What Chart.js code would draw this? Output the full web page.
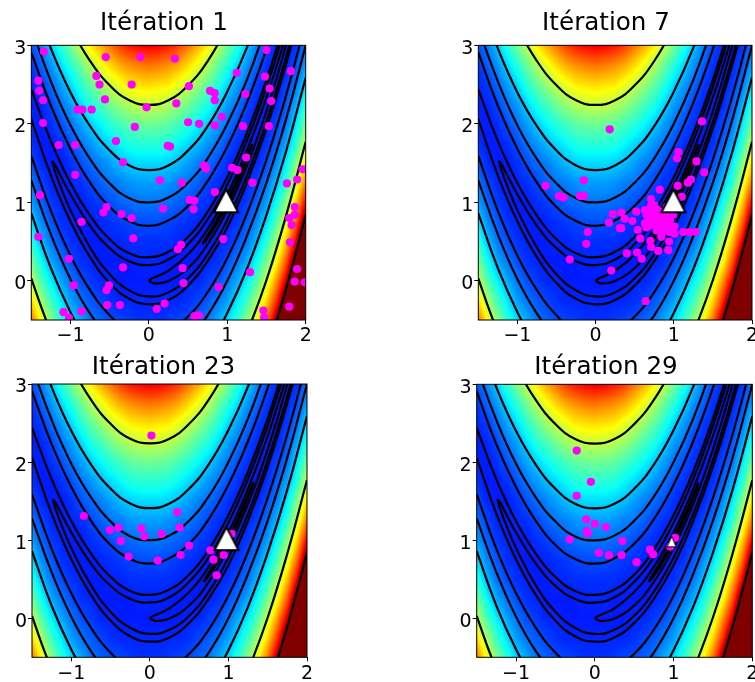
<!DOCTYPE html>
<html><head><meta charset="utf-8">
<style>html,body{margin:0;padding:0;background:#fff;overflow:hidden;width:755px;height:682px;position:relative}canvas{position:absolute}</style>
<script src="https://cdn.jsdelivr.net/npm/chart.js@4"></script>
</head><body>
<script>
const xTicks=[-1,0,1,2];
const yTicks=[0,1,2,3];
const gridX=[-1.5,-1.375,-1.25,-1.125,-1,-0.875,-0.75,-0.625,-0.5,-0.375,-0.25,-0.125,0,0.125,0.25,0.375,0.5,0.625,0.75,0.875,1,1.125,1.25,1.375,1.5,1.625,1.75,1.875,2];
const gridY=[3,2.75,2.5,2.25,2,1.75,1.5,1.25,1,0.75,0.5,0.25,0,-0.25,-0.5];
const heatRows=[
[20,25,33,41,49,58,66,73,79,85,89,91,92,91,89,85,79,73,66,58,49,41,33,25,20,16,15,17,24],
[17,22,27,34,41,48,56,62,68,73,76,78,79,78,76,73,68,62,56,48,41,34,27,22,17,15,16,20,28],
[16,18,23,28,34,41,47,53,58,62,66,67,68,67,66,62,58,53,47,41,34,28,23,18,16,15,18,24,34],
[15,16,19,24,28,34,40,44,49,53,56,58,58,58,56,53,49,44,40,34,28,24,19,16,15,16,21,29,41],
[16,15,17,20,24,28,33,37,41,44,47,48,49,48,47,44,41,37,33,28,24,20,17,15,16,19,24,35,49],
[17,15,15,17,20,24,27,31,34,37,40,41,41,41,40,37,34,31,27,24,20,17,15,15,17,22,29,41,58],
[20,16,15,15,17,20,23,25,28,31,33,34,34,34,33,31,28,25,23,20,17,15,15,16,20,26,36,50,68],
[24,19,16,15,16,17,19,22,24,25,27,28,28,28,27,25,24,22,19,17,16,15,16,19,24,31,42,58,79],
[28,22,18,16,15,15,17,18,20,22,23,24,24,24,23,22,20,18,17,15,15,16,18,22,28,38,51,69,92],
[34,26,21,17,16,15,15,16,17,18,19,20,20,20,19,18,17,16,15,15,16,17,21,26,34,45,60,80,105],
[41,31,24,20,17,16,15,15,16,16,17,17,17,17,17,16,16,15,15,16,17,20,24,31,41,54,71,92,119],
[49,38,29,24,20,17,16,15,15,15,15,16,16,16,15,15,15,15,16,17,20,24,29,38,49,63,82,106,135],
[58,45,36,29,24,20,18,16,16,15,15,15,15,15,15,15,16,16,18,20,24,29,36,45,58,75,94,121,151],
[68,54,43,35,28,24,21,19,17,16,16,16,16,16,16,16,17,19,21,24,28,35,43,54,68,86,108,136,169],
[79,63,51,41,34,29,24,22,20,19,18,17,17,17,18,19,20,22,24,29,34,41,51,63,79,99,123,152,187]
];
const level1000Low=[[1.5,-0.91],[1.625,-0.52],[1.75,-0.1],[1.875,0.36],[2,0.84]];
const level500Up=[[-1.25,3.79],[-1,3.23],[-0.75,2.8],[-0.5,2.49],[-0.25,2.3],[0,2.24],[0.25,2.3],[0.5,2.49],[0.75,2.8],[1,3.24],[1.25,3.8]];
const level500LowL=[[-1.5,0.03],[-1.375,-0.33],[-1.25,-0.66]];
const level500LowR=[[1.125,-0.97],[1.25,-0.67],[1.5,0.01],[1.75,0.83],[2,1.77]];
const level200Up=[[-1.5,3.64],[-1.25,2.96],[-1,2.4],[-0.75,1.97],[-0.5,1.66],[-0.25,1.47],[0,1.41],[0.25,1.47],[0.5,1.66],[0.75,1.97],[1,2.41],[1.25,2.97],[1.5,3.66]];
const level200LowL=[[-1.5,0.86],[-1.25,0.16],[-1,-0.4],[-0.75,-0.85]];
const level200LowR=[[0.75,-0.85],[1,-0.41],[1.25,0.15],[1.5,0.84],[1.75,1.65],[2,2.59]];
const level100Up=[[-1.5,3.22],[-1.25,2.54],[-1,1.98],[-0.75,1.55],[-0.5,1.24],[-0.25,1.05],[0,1],[0.25,1.06],[0.5,1.25],[0.75,1.56],[1,2],[1.25,2.56],[1.5,3.25]];
const level100LowL=[[-1.5,1.28],[-1.25,0.59],[-1,0.02],[-0.75,-0.42],[-0.5,-0.74]];
const level100LowR=[[0.5,-0.75],[0.75,-0.44],[1,0],[1.25,0.57],[1.5,1.25],[1.75,2.06],[2,3]];
const level50Up=[[-1.5,2.91],[-1.25,2.23],[-1,1.68],[-0.75,1.25],[-0.5,0.94],[-0.25,0.76],[0,0.7],[0.25,0.77],[0.5,0.955],[0.75,1.27],[1,1.71],[1.25,2.27],[1.5,2.955],[1.75,3.77]];
const level50Low=[[-1.5,1.59],[-1.25,0.89],[-1,0.32],[-0.75,-0.12],[-0.5,-0.44],[-0.25,-0.64],[0,-0.7],[0.25,-0.64],[0.5,-0.455],[0.75,-0.145],[1,0.29],[1.25,0.855],[1.5,1.545],[1.75,2.36],[2,3.3]];
const level10Up=[[-1.5,2.44],[-1.25,1.78],[-1,1.245],[-0.75,0.83],[-0.5,0.53],[-0.25,0.35],[0,0.3],[0.25,0.37],[0.5,0.56],[0.75,0.88],[1,1.32],[1.25,1.88],[1.5,2.56],[1.75,3.37],[2,4.3]];
const level10Low=[[-1.5,2.06],[-1.25,1.34],[-1,0.755],[-0.75,0.3],[-0.5,-0.03],[-0.25,-0.23],[0,-0.3],[0.25,-0.245],[0.5,-0.06],[0.75,0.25],[1,0.68],[1.25,1.25],[1.5,1.94],[1.75,2.76],[2,3.7]];
const level5Loop=[[-1.236,1.528],[-1.2,1.48],[-1.125,1.335],[-1,1.1],[-0.75,0.7],[-0.5,0.416],[-0.25,0.2475],[0,0.2],[0.25,0.27],[0.5,0.468],[0.75,0.784],[1,1.224],[1.25,1.785],[1.5,2.468],[1.75,3.27],[2,4.2],[2,3.8],[1.75,2.85],[1.5,2.03],[1.25,1.34],[1,0.776],[0.75,0.34],[0.5,0.032],[0.25,-0.148],[0,-0.2],[-0.25,-0.1225],[-0.5,0.084],[-0.75,0.424],[-1,0.9],[-1.125,1.197],[-1.2,1.4],[-1.236,1.528]];
const level1Loop=[[0,0],[0.05,0.034],[0.1,0.054],[0.25,0.1285],[0.5,0.337],[0.75,0.659],[1,1.1],[1.25,1.66],[1.5,2.337],[1.75,3.13],[2,4],[1.75,3],[1.5,2.163],[1.25,1.465],[1,0.9],[0.75,0.466],[0.5,0.163],[0.25,-0.0035],[0.1,-0.034],[0.05,-0.029],[0,0]];
const levelTenthLoop=[[0.684,0.468],[0.7,0.5],[0.75,0.582],[0.85,0.75],[1,1.032],[1.15,1.35],[1.25,1.58],[1.3,1.7],[1.316,1.732],[1.3,1.68],[1.25,1.544],[1.15,1.295],[1,0.968],[0.85,0.695],[0.75,0.543],[0.7,0.48],[0.684,0.468]];
const contourLines=[level1000Low,level500Up,level500LowL,level500LowR,level200Up,level200LowL,level200LowR,level100Up,level100LowL,level100LowR,level50Up,level50Low,level10Up,level10Low,level5Loop,level1Loop,levelTenthLoop];
const best1=[[0.985,1]];
const best7=[[0.995,1]];
const best23=[[0.975,1]];
const best29=[[0.975,1]];
const iter1Points=[[-1.34,2.92],[-0.55,2.85],[-0.11,2.85],[0.33,2.83],[1.5,2.94],[1.12,2.65],[1.81,2.67],[-0.67,2.61],[-1.41,2.55],[-1.4,2.42],[-0.63,2.5],[-0.22,2.5],[0.51,2.48],[1.48,2.6],[1.54,2.45],[0.78,2.42],[0.84,2.39],[1.23,2.38],[-1.35,2.3],[-0.56,2.31],[0.35,2.26],[0.84,2.3],[1.56,2.29],[-0.91,2.18],[-0.85,2.18],[-0.73,2.18],[-0.03,2.21],[-1.35,2.01],[-0.18,1.96],[0.5,2.02],[0.64,2],[0.84,1.98],[0.93,2.09],[1.2,1.97],[1.53,1.97],[-0.42,1.78],[-1.15,1.73],[-0.94,1.73],[0.24,1.72],[0.27,1.71],[1.24,1.57],[-0.33,1.51],[0.7,1.47],[0.73,1.43],[1.06,1.44],[1.13,1.41],[-0.94,1.35],[0.14,1.28],[0.42,1.25],[1.32,1.25],[1.96,1.42],[1.89,1.29],[1.76,1.24],[-1.39,1.09],[0.84,1.13],[0.52,1.03],[0.58,1.02],[-0.54,0.94],[-0.58,0.87],[0.18,0.92],[0.57,0.91],[-0.35,0.85],[-0.22,0.8],[1.86,0.94],[1.86,0.84],[1.79,0.8],[1.82,0.71],[-0.86,0.75],[-1.41,0.56],[-0.2,0.54],[0.95,0.53],[1.8,0.49],[0.41,0.46],[0.37,0.4],[-1.02,0.28],[-0.33,0.17],[0.43,0.16],[1.89,0.15],[1.29,0.11],[1.86,-0.01],[0.44,-0.03],[-0.96,-0.06],[-0.51,-0.06],[-0.54,-0.12],[0.89,-0.08],[1.99,-0.02],[-0.53,-0.31],[-0.37,-0.31],[0.2,-0.29],[1.79,-0.33],[0.1,-0.36],[-1.09,-0.4],[-0.86,-0.39],[1.46,-0.38],[-1.02,-0.47],[0.58,-0.45],[0.64,-0.44],[1.47,-0.47]];
const iter7Points=[[1.36,2.03],[0.18,1.93],[1.06,1.64],[1.04,1.56],[1.29,1.52],[1.39,1.38],[-0.15,1.28],[-0.64,1.21],[-0.47,1.08],[-0.41,1.06],[-0.2,1.08],[-0.15,1.08],[0.17,0.74],[0.22,0.85],[0.31,0.67],[-0.1,0.62],[-0.12,0.47],[-0.33,0.27],[0.2,0.13],[0.64,-0.26],[0.82,1.16],[0.71,1.04],[0.75,0.96],[0.52,0.88],[0.33,0.87],[0.69,0.9],[0.65,0.84],[0.74,0.86],[0.82,0.88],[0.91,0.88],[0.99,0.84],[0.67,0.77],[0.74,0.77],[0.86,0.77],[0.95,0.77],[0.37,0.79],[0.47,0.76],[0.33,0.67],[0.54,0.65],[0.65,0.68],[0.76,0.71],[0.84,0.69],[0.93,0.69],[1.01,0.69],[1.12,0.62],[1.2,0.62],[1.28,0.62],[1.01,0.6],[0.86,0.62],[0.84,0.56],[0.57,0.54],[0.7,0.51],[0.94,0.5],[0.71,0.43],[0.8,0.38],[0.93,0.39],[0.4,0.35],[0.53,0.36],[0.59,0.28],[1.05,1.21],[1.18,1.25],[1.22,1.29],[1.1,1.07],[0.78,0.81],[0.8,0.75],[0.63,0.9],[0.69,0.79],[0.91,0.79],[0.82,0.84],[0.95,0.81],[0.71,0.96],[0.78,0.91],[0.74,0.81],[0.86,0.84],[0.95,0.88],[0.91,0.73],[0.82,0.73],[0.71,0.71],[0.63,0.73],[0.78,0.64],[0.95,0.62],[0.91,0.94]];
const iter23Points=[[0.02,2.34],[0.35,1.36],[-0.84,1.31],[-0.4,1.16],[0.38,1.16],[-0.51,1.13],[-0.11,1.15],[0.15,1.08],[-0.07,1.05],[-0.37,0.99],[1.04,1.08],[0.5,0.93],[0.77,0.87],[-0.27,0.79],[0.39,0.81],[0.1,0.74],[0.81,0.75],[0.94,0.81],[0.85,0.55]];
const iter29Points=[[-0.23,2.15],[-0.05,1.75],[-0.23,1.57],[-0.11,1.27],[0,1.21],[0.14,1.17],[-0.1,1.12],[-0.09,1.09],[-0.32,1.01],[0.35,0.99],[0.05,0.84],[0.18,0.81],[0.34,0.81],[0.53,0.72],[0.7,0.88],[0.74,0.82],[1.02,1.03],[0.96,0.92]];
function triangleSprite(up,down,half,line){
 const c=document.createElement('canvas');c.width=c.height=36;const g=c.getContext('2d');
 g.translate(18,18);g.beginPath();g.moveTo(0,-up);g.lineTo(half,down);g.lineTo(-half,down);g.closePath();
 g.fillStyle='#fff';g.fill();g.strokeStyle='#000';g.lineWidth=line;g.lineJoin='miter';g.miterLimit=10;g.stroke();return c;}
const bigTri=triangleSprite(13,10,12,2);
const smallTri=triangleSprite(4,6.6,4.6,1);
const panels=[
 {title:'Itération 1',points:iter1Points,best:best1,L:31.3,R:305.7,T:45.3,B:320,gap:6.6,tri:bigTri,center:164},
 {title:'Itération 7',points:iter7Points,best:best7,L:478.3,R:752.3,T:45.3,B:320,gap:6.6,tri:bigTri,center:606},
 {title:'Itération 23',points:iter23Points,best:best23,L:32,R:307,T:384,B:657.3,gap:2,tri:bigTri,center:163.5},
 {title:'Itération 29',points:iter29Points,best:best29,L:476.7,R:752.3,T:384.3,B:657.3,gap:2,tri:smallTri,center:606}
];
const jetStops=[[0,0,0,.5],[.11,0,0,1],[.125,0,0,1],[.34,0,.86,1],[.35,0,.9,1],[.375,.02,1,.97],[.64,1,1,.03],[.65,1,.96,0],[.66,1,.93,0],[.89,1,.07,0],[.91,.95,0,0],[1,.5,0,0]];
function jet(t){t=Math.max(0,Math.min(1,t));
 for(let i=1;i<jetStops.length;i++){const a=jetStops[i-1],b=jetStops[i];
  if(t<=b[0]){const f=(t-a[0])/(b[0]-a[0]);return [a[1]+(b[1]-a[1])*f,a[2]+(b[2]-a[2])*f,a[3]+(b[3]-a[3])*f];}}
 return [.5,0,0];}
const heatPlugin={id:'heat',beforeDatasetsDraw(c){
 const a=c.chartArea,sx=c.scales.x,sy=c.scales.y;
 const x0=Math.floor(a.left),y0=Math.floor(a.top),w=Math.ceil(a.right)-x0,h=Math.ceil(a.bottom)-y0;
 const off=document.createElement('canvas');off.width=w;off.height=h;
 const g=off.getContext('2d'),img=g.createImageData(w,h),cols=gridX.length,rows=gridY.length;
 const dx=gridX[1]-gridX[0],dy=gridY[0]-gridY[1];
 for(let j=0;j<h;j++){
  const vy=sy.getValueForPixel(y0+j+.5);
  let fy=(gridY[0]-vy)/dy;fy=Math.max(0,Math.min(rows-1.001,fy));const r=Math.floor(fy),ty=fy-r;
  for(let i=0;i<w;i++){
   const vx=sx.getValueForPixel(x0+i+.5);
   let fx=(vx-gridX[0])/dx;fx=Math.max(0,Math.min(cols-1.001,fx));const q=Math.floor(fx),tx=fx-q;
   const v=(heatRows[r][q]*(1-tx)+heatRows[r][q+1]*tx)*(1-ty)+(heatRows[r+1][q]*(1-tx)+heatRows[r+1][q+1]*tx)*ty;
   const col=jet(v/100),p=(j*w+i)*4;
   img.data[p]=col[0]*255;img.data[p+1]=col[1]*255;img.data[p+2]=col[2]*255;img.data[p+3]=255;
  }}
 g.putImageData(img,0,0);
 c.ctx.save();c.ctx.beginPath();c.ctx.rect(a.left,a.top,a.right-a.left,a.bottom-a.top);c.ctx.clip();
 c.ctx.drawImage(off,x0,y0);c.ctx.restore();
}};
const framePlugin={id:'frame',afterDraw(c){const a=c.chartArea,x=c.ctx;x.save();x.strokeStyle='#000';x.lineWidth=1;
 x.strokeRect(a.left,a.top,a.right-a.left,a.bottom-a.top);x.restore();}};
const toXY=p=>({x:p[0],y:p[1]});
panels.forEach(p=>{
 const cl=Math.floor(p.L)-31,ct=Math.floor(p.T)-45;
 const W=Math.round(2*(p.center-cl)),H=Math.ceil(p.B-ct+26);
 const cv=document.createElement('canvas');
 cv.style.left=cl+'px';cv.style.top=ct+'px';cv.style.width=W+'px';cv.style.height=H+'px';cv.width=W;cv.height=H;
 document.body.appendChild(cv);
 const datasets=[
  {data:p.best.map(toXY),order:0,pointStyle:p.tri,pointRadius:12,showLine:false},
  {data:p.points.map(toXY),order:1,pointRadius:4.1,pointBackgroundColor:'#ff00ff',pointBorderWidth:0,showLine:false}
 ];
 contourLines.forEach(l=>datasets.push({data:l.map(toXY),order:2,showLine:true,borderColor:'#000',borderWidth:2.2,pointRadius:0,tension:.45,fill:false}));
 const tickFont={family:'"DejaVu Sans"',size:19};
 new Chart(cv,{type:'scatter',data:{datasets},plugins:[heatPlugin,framePlugin],options:{
  responsive:false,animation:false,events:[],
  layout:{padding:0},
  plugins:{legend:{display:false},tooltip:{enabled:false},
   title:{display:true,text:p.title,color:'#000',font:{family:'"DejaVu Sans"',size:24.6,weight:'normal',lineHeight:1.2},padding:{top:(p.T-ct)-29.5-p.gap,bottom:p.gap}}},
  scales:{
   x:{type:'linear',min:-1.5,max:2,afterBuildTicks:s=>{s.ticks=xTicks.map(v=>({value:v}))},afterFit:s=>{s.height=H-(p.B-ct)},
    grid:{display:true,drawOnChartArea:false,drawTicks:true,tickLength:4,tickColor:'#000',tickWidth:1},border:{display:false},
    ticks:{color:'#000',font:tickFont,padding:1,maxRotation:0,autoSkip:false,callback:v=>String(v).replace('-','\u2212')}},
   y:{type:'linear',min:-0.5,max:3,afterBuildTicks:s=>{s.ticks=yTicks.map(v=>({value:v}))},afterFit:s=>{s.width=p.L-cl},
    grid:{display:true,drawOnChartArea:false,drawTicks:true,tickLength:4,tickColor:'#000',tickWidth:1},border:{display:false},
    ticks:{color:'#000',font:tickFont,padding:1,labelOffset:3.5,autoSkip:false,callback:v=>String(v)}},
   spacer:{type:'linear',position:'right',display:true,min:0,max:1,afterFit:s=>{s.width=W-(p.R-cl)},
    grid:{display:false},border:{display:false},ticks:{display:false}}
  }}});
});
</script>
</body></html>
